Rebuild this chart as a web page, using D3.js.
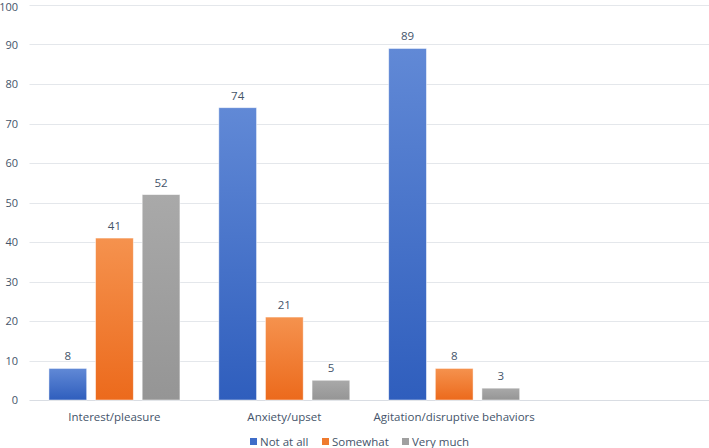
<!DOCTYPE html>
<html><head><meta charset="utf-8">
<script src="https://cdn.jsdelivr.net/npm/d3@7"></script>
<style>
html,body{margin:0;padding:0;background:#fff;}
text{font-family:"Open Sans","Noto Sans",sans-serif;fill:#44546a;}
</style></head>
<body>
<svg id="chart" width="709" height="448"></svg>
<script>
const categories = ["Interest/pleasure", "Anxiety/upset", "Agitation/disruptive behaviors", ""];
const seriesNames = ["Not at all", "Somewhat", "Very much"];
const notAtAll = [8, 74, 89];
const somewhat = [41, 21, 8];
const veryMuch = [52, 5, 3];
const yTicks = [0, 10, 20, 30, 40, 50, 60, 70, 80, 90, 100];

const seriesValues = [notAtAll, somewhat, veryMuch];
const colors = [
  {top: "#6189d6", bottom: "#2f5ebd", legend: "#3e6cc8"},
  {top: "#f5924e", bottom: "#ec6a1c", legend: "#ef7a2e"},
  {top: "#a9a9a9", bottom: "#959595", legend: "#a0a0a0"}
];

const svg = d3.select("#chart");
const margin = {left: 29.5, right: 0, top: 5, bottom: 48};
const W = 709, H = 448;
const x0 = d3.scaleBand().domain(categories).range([margin.left, W - margin.right]).paddingInner(0).paddingOuter(0);
const y = d3.scaleLinear().domain([0, 100]).range([400, 5]);
const x1 = d3.scaleBand().domain(seriesNames).range([0, 131]).paddingInner(0.19).paddingOuter(0);

const defs = svg.append("defs");
colors.forEach((c, i) => {
  const g = defs.append("linearGradient").attr("id", "g" + i).attr("x1", 0).attr("y1", 0).attr("x2", 0).attr("y2", 1);
  g.append("stop").attr("offset", "0%").attr("stop-color", c.top);
  g.append("stop").attr("offset", "100%").attr("stop-color", c.bottom);
});

// gridlines
svg.append("g").selectAll("line").data(yTicks).join("line")
  .attr("x1", margin.left).attr("x2", W)
  .attr("y1", d => Math.round(y(d)) + 0.5).attr("y2", d => Math.round(y(d)) + 0.5)
  .attr("stroke", d => d === 0 ? "#d9dde3" : "#e4e7eb").attr("stroke-width", 1);

// y axis labels
const yAxis = d3.axisLeft(y).tickValues(yTicks).tickSize(0).tickPadding(0);
const ya = svg.append("g").attr("transform", "translate(18,0)").call(yAxis);
ya.select(".domain").remove();
ya.selectAll("text").attr("font-size", 11).style("font-family", '"Open Sans","Noto Sans",sans-serif').attr("fill", "#44546a");
ya.selectAll(".tick").filter(d => d === 100).select("text").attr("dy", "0.5em");

// bars
const groups = svg.append("g").selectAll("g").data(categories.slice(0, 3)).join("g")
  .attr("transform", d => `translate(${x0(d) + (x0.bandwidth() - 131) / 2},0)`);

groups.each(function(cat, ci) {
  const g = d3.select(this);
  seriesNames.forEach((s, si) => {
    const v = seriesValues[si][ci];
    g.append("rect")
      .attr("x", x1(s)).attr("width", x1.bandwidth())
      .attr("y", y(v)).attr("height", y(0) - y(v))
      .attr("fill", `url(#g${si})`)
      .attr("stroke", "rgba(255,255,255,0.6)").attr("stroke-width", 0.8);
    g.append("text")
      .attr("x", x1(s) + x1.bandwidth() / 2).attr("y", y(v) - 8)
      .attr("text-anchor", "middle").attr("font-size", 11.5)
      .text(v);
  });
});

// x axis labels
const xAxis = d3.axisBottom(x0).tickSize(0).tickPadding(0);
const xa = svg.append("g").attr("transform", "translate(0,417)").call(xAxis);
xa.select(".domain").remove();
xa.selectAll("text").attr("font-size", 11.5).attr("dy", "0.35em")
  .style("font-family", '"Open Sans","Noto Sans",sans-serif').attr("fill", "#44546a");

// legend
const legendX = [250, 322, 402];
const lg = svg.append("g").selectAll("g").data(seriesNames).join("g")
  .attr("transform", (d, i) => `translate(${legendX[i]},441.5)`);
lg.append("rect").attr("x", 0).attr("y", -3.5).attr("width", 7).attr("height", 7)
  .attr("fill", (d, i) => colors[i].legend);
lg.append("text").attr("x", 10).attr("dy", "0.35em").attr("font-size", 11.5).text(d => d);
</script>
</body></html>
